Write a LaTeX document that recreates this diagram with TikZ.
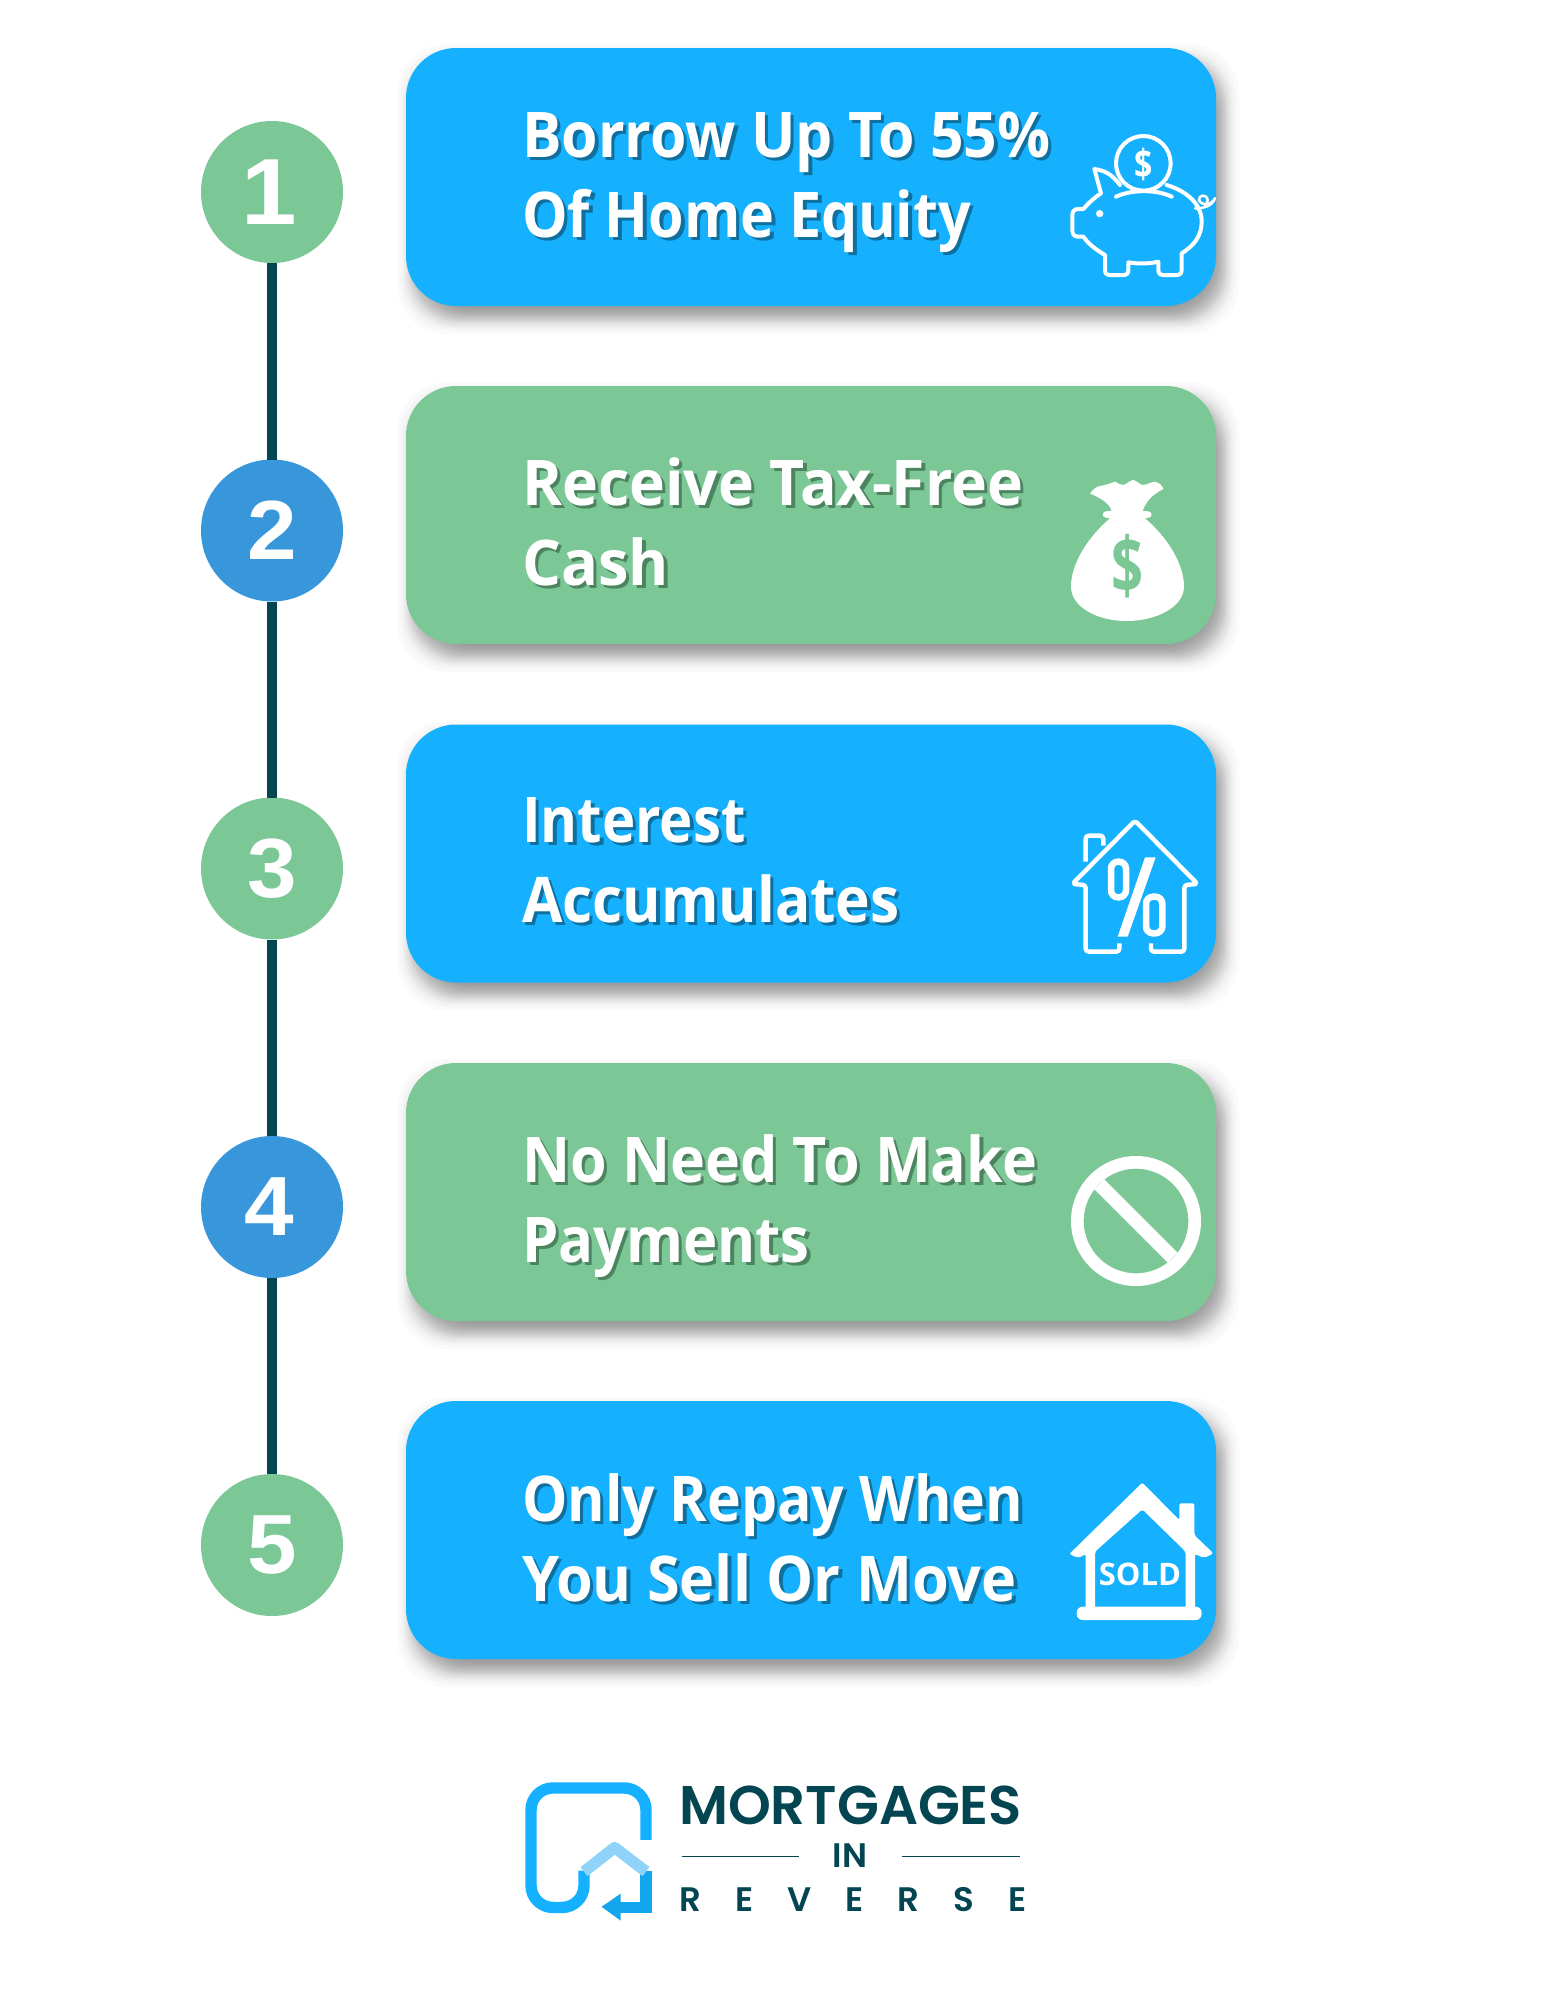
\documentclass[tikz,border=0pt]{standalone}
\usepackage{fontspec}
\usepackage{graphicx}
\setmainfont{Open Sans}
\newfontfamily\headfont[FakeStretch=0.93]{Open Sans}
\newfontfamily\digitfont[FakeStretch=1.06]{Liberation Sans}
\newfontfamily\logofont{Poppins SemiBold}
\definecolor{cblue}{HTML}{15B1FF}
\definecolor{cgreen}{HTML}{7CC796}
\definecolor{cdark}{HTML}{044552}
\definecolor{ccirc}{HTML}{3897DB}
\definecolor{sblue}{HTML}{0F6F9F}
\definecolor{sgreen}{HTML}{4C8460}
\definecolor{croof}{HTML}{8FD4F8}
\tikzset{
 cardbox/.style={rounded corners=50pt,minimum width=810pt,minimum height=258pt,inner sep=0pt,outer sep=0pt},
 numcirc/.style={circle,minimum size=142pt,inner sep=0pt,outer sep=0pt,text=white,font=\digitfont\bfseries\fontsize{84}{84}\selectfont},
 headtext/.style={anchor=base west,inner sep=0pt,outer sep=0pt,font=\headfont\bfseries\fontsize{63}{80}\selectfont},
 connector/.style={draw=cdark,line width=10pt},
 iconline/.style={draw=white,line width=4.4pt,line join=round,line cap=round,rounded corners=3pt},
 logotext/.style={anchor=base west,inner sep=0pt,outer sep=0pt,text=cdark},
 zoomcs/.style={shift={(#1)},x=0.33333pt,y=-0.33333pt},
 logocs/.style={shift={(#1)},x=0.3444pt,y=-0.3444pt}
}
\newcommand{\cardshadow}[1]{%
 \foreach \e in {-16,-12.5,-10,-8.5,-7.2,-6,-4.8,-3.9,-3,-2.1,-1.3,-.4,.4,1.3,2.1,3,3.9,4.8,6,7.2,8.5,10,12.5,16}{%
  \fill[black,opacity=.02,rounded corners=50pt] (406+7-\e,#1+12-\e) rectangle (1216+7+\e,#1+258+12+\e);}}
\newcommand{\headline}[6]{% name x y text shadow xscale
 \node[headtext,text=#5] at (#2+3.5,#3+3.5) {\scalebox{#6}[1]{#4}};
 \node[headtext,text=white] (#1) at (#2,#3) {\scalebox{#6}[1]{#4}};}
\begin{document}
\begin{tikzpicture}[x=1pt,y=-1pt]
\useasboundingbox (0,0) rectangle (1545,2000);
\fill[white] (0,0) rectangle (1545,2000);
% shadows
\cardshadow{48}\cardshadow{386}\cardshadow{724.5}\cardshadow{1063}\cardshadow{1401}
% cards
\node[cardbox,fill=cblue] (b1) at (811,177) {};
\node[cardbox,fill=cgreen] (b2) at (811,515) {};
\node[cardbox,fill=cblue] (b3) at (811,853.5) {};
\node[cardbox,fill=cgreen] (b4) at (811,1192) {};
\node[cardbox,fill=cblue] (b5) at (811,1530) {};
% circles
\node[numcirc,fill=cgreen,font=\digitfont\bfseries\fontsize{94}{94}\selectfont] (c1) at (272,192) {\kern-6pt 1};
\node[numcirc,fill=ccirc] (c2) at (272,530.5) {2};
\node[numcirc,fill=cgreen] (c3) at (272,868.5) {3};
\node[numcirc,fill=ccirc] (c4) at (272,1207) {\kern-5pt 4};
\node[numcirc,fill=cgreen] (c5) at (272,1545) {5};
\draw[connector] (c1.south) -- (c2.north);
\draw[connector] (c2.south) -- (c3.north);
\draw[connector] (c3.south) -- (c4.north);
\draw[connector] (c4.south) -- (c5.north);
% headings
\headline{t1a}{522}{157}{Borrow Up To 55\%}{sblue}{1.005}
\headline{t1b}{522}{237}{Of Home Equity}{sblue}{.98}
\headline{t2a}{522}{505}{Receive Tax-Free}{sgreen}{1.037}
\headline{t2b}{522}{585}{Cash}{sgreen}{1.046}
\headline{t3a}{522}{842}{Interest}{sblue}{.961}
\headline{t3b}{522}{922}{Accumulates}{sblue}{1}
\headline{t4a}{522}{1182}{No Need To Make}{sgreen}{1.01}
\headline{t4b}{522}{1262}{Payments}{sgreen}{.99}
\headline{t5a}{522}{1521}{Only Repay When}{sblue}{.975}
\headline{t5b}{522}{1601}{You Sell Or Move}{sblue}{1.013}
% piggy
\begin{scope}[zoomcs={1000,100}]
 \draw[iconline,line width=4pt,rounded corners=0pt,fill=none] (430,190) circle[radius=82];
 \draw[iconline,line width=4pt,rounded corners=0pt] (360,255) .. controls (335,222) and (315,212) .. (283,207) -- (303,280) .. controls (280,295) and (265,310) .. (250,327) -- (235,327) .. controls (222,327) and (217,335) .. (217,345) -- (217,392) .. controls (217,405) and (225,410) .. (235,410) -- (250,410) .. controls (268,435) and (290,450) .. (315,465) -- (315,510) .. controls (315,520) and (320,525) .. (330,525) -- (370,525) .. controls (380,525) and (385,520) .. (385,510) -- (385,487) .. controls (415,492) and (445,492) .. (475,485) -- (475,510) .. controls (475,520) and (480,525) .. (490,525) -- (530,525) .. controls (540,525) and (545,520) .. (545,510) -- (545,460) .. controls (585,435) and (605,405) .. (605,365) .. controls (605,315) and (565,275) .. (500,255);
 \draw[iconline,line width=4pt,rounded corners=0pt] (348,290) .. controls (395,268) and (470,268) .. (515,290);
 \fill[white] (299,341) circle[radius=11];
 \draw[white,line width=2.5pt,line cap=round] (585,325) .. controls (610,325) and (635,320) .. (645,295);
 \draw[white,line width=2.5pt,line cap=round] (645,295) .. controls (635,315) and (605,320) .. (597,300) .. controls (595,285) and (620,280) .. (623,300) .. controls (623,305) and (620,312) .. (615,317);
 \node[text=white,inner sep=0pt,font=\bfseries\fontsize{40}{40}\selectfont] (pigd) at (430,194) {\scalebox{.8}[1]{\$}};
\end{scope}
% money bag
\begin{scope}[zoomcs={1000,440}]
 \fill[white] (270,160) .. controls (280,150) and (285,140) .. (300,138) .. controls (320,135) and (330,130) .. (345,125) .. controls (355,130) and (360,135) .. (370,135) .. controls (380,133) and (390,120) .. (400,120) .. controls (410,122) and (420,135) .. (430,135) .. controls (445,133) and (455,125) .. (465,125) .. controls (480,128) and (488,140) .. (490,147) .. controls (460,162) and (440,180) .. (428,212) -- (445,214) .. controls (458,216) and (458,232) .. (445,233) -- (435,235) .. controls (500,290) and (552,370) .. (552,440) .. controls (552,500) and (470,543) .. (380,543) .. controls (290,543) and (213,500) .. (213,440) .. controls (213,370) and (265,290) .. (330,235) -- (318,233) .. controls (305,232) and (305,216) .. (318,214) -- (335,212) .. controls (325,185) and (300,175) .. (270,160) -- cycle;
 \node[text=cgreen,inner sep=0pt,font=\bfseries\fontsize{78}{78}\selectfont] (bagd) at (383,378) {\scalebox{.72}[1]{\$}};
\end{scope}
% percent house
\begin{scope}[zoomcs={1000,780}]
 \draw[iconline,line cap=butt] (358,490) -- (358,515) -- (257,515) -- (257,315) -- (217,312) -- (405,122) -- (593,312) -- (553,315) -- (553,515) -- (453,515) -- (453,490);
 \draw[iconline,line cap=butt] (257,245) -- (257,167) -- (310,167) -- (310,197);
 \draw[white,line width=6.5pt,rounded corners=7pt] (333,245) rectangle (378,352);
 \draw[white,line width=6.5pt,rounded corners=7pt] (438,350) rectangle (487,460);
 \fill[white] (435,232) -- (467,232) -- (383,470) -- (353,470) -- cycle;
\end{scope}
% no-entry
\begin{scope}[zoomcs={1000,1120}]
 \draw[white,line width=12.7pt] (408,303) circle[radius=176];
 \draw[white,line width=14pt] (298,193) -- (518,413);
\end{scope}
% sold house
\begin{scope}[zoomcs={1000,1440}]
 \fill[white,rounded corners=2pt] (208,342) -- (427,128) -- (538,240) -- (538,190) -- (583,190) -- (583,285) -- (640,340) -- (612,354) -- (585,342) -- (585,505) -- (557,505) -- (557,335) -- (427,208) -- (285,335) -- (285,505) -- (257,505) -- (257,342) -- (235,354) -- cycle;
 \fill[white,rounded corners=6pt] (230,500) rectangle (605,540);
 \node[text=white,inner sep=0pt,font=\bfseries\fontsize{31}{31}\selectfont] (soldt) at (420,402) {SOLD};
\end{scope}
% logo
\begin{scope}[logocs={500,1738}]
 \draw[cblue,line width=11.4pt,rounded corners=22pt] (424,296) -- (424,145) -- (90,145) -- (90,492) -- (244,492) -- (244,385);
 \draw[cblue!90!cdark,line width=11.4pt] (424,385) -- (424,492) -- (340,492);
 \draw[croof,line width=11.4pt,line join=round] (244,388) -- (333,318) -- (424,388);
 \fill[cblue!90!cdark] (295,490) -- (350,452) -- (350,530) -- cycle;
 \node[logotext,font=\logofont\fontsize{54.5}{54.5}\selectfont] (lg1) at (520,250) {MORTGAGES};
 \node[logotext,font=\logofont\fontsize{34}{34}\selectfont] (lg2) at (966,376) {IN};
 \node[logotext,font=\logofont\fontsize{34}{34}\addfontfeature{LetterSpace=100}\selectfont] (lg3) at (521,505) {REVERSE};
 \coordinate (la) at (527,343); \coordinate (lb) at (868,343);
 \coordinate (lc) at (1168,343); \coordinate (ld) at (1510,343);
 \draw[cdark,line width=1.3pt] (la) -- (lb);
 \draw[cdark,line width=1.3pt] (lc) -- (ld);
\end{scope}
\end{tikzpicture}
\end{document}
